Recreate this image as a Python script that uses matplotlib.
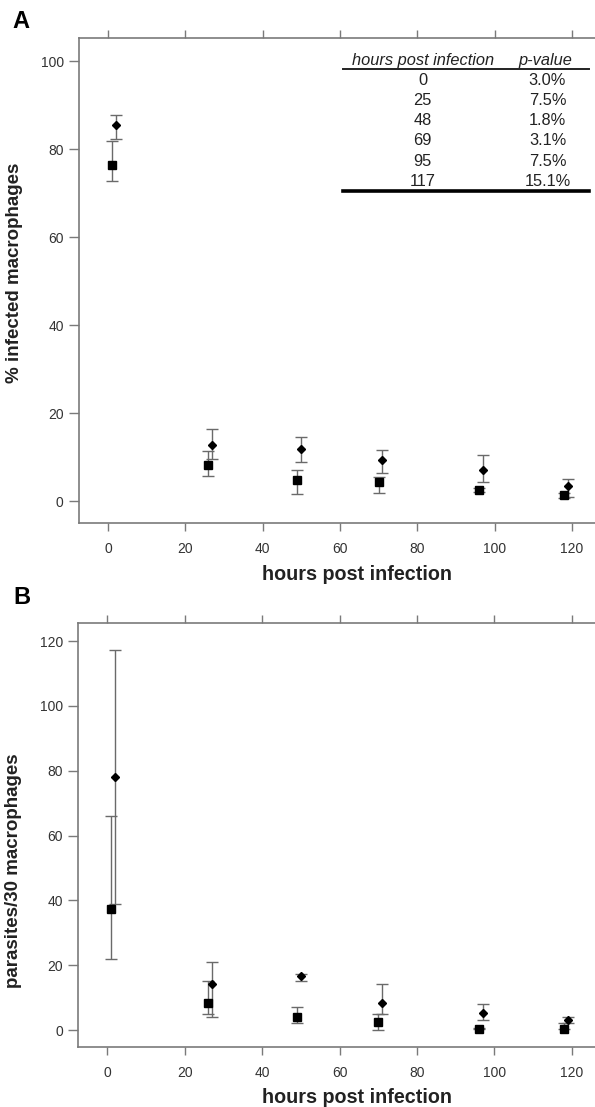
"""Two-panel time course: infected macrophages and parasite load."""

import matplotlib
matplotlib.use("Agg")
import matplotlib.pyplot as plt
from matplotlib.lines import Line2D

plt.rcParams["font.family"] = ["Liberation Sans", "DejaVu Sans"]

# sampling times (two groups slightly offset)
sq_x = [1, 26, 49, 70, 96, 118]
di_x = [2, 27, 50, 71, 97, 119]

# panel A: % infected macrophages
a_sq_y = [76.4, 8.3, 4.8, 4.3, 2.6, 1.4]
a_sq_lo = [72.8, 5.8, 1.7, 1.9, 2.0, 0.8]
a_sq_hi = [81.8, 11.4, 7.0, 5.4, 3.1, 1.8]
a_di_y = [85.5, 12.8, 11.8, 9.3, 7.0, 3.4]
a_di_lo = [82.3, 9.5, 8.8, 6.3, 4.3, 0.9]
a_di_hi = [87.8, 16.3, 14.5, 11.6, 10.6, 5.0]

# panel B: parasites / 30 macrophages
b_sq_y = [37.4, 8.4, 4.0, 2.4, 0.5, 0.5]
b_sq_lo = [21.9, 5.1, 2.2, 0.0, 0.3, 0.3]
b_sq_hi = [66.1, 15.1, 7.1, 5.1, 0.8, 2.2]
b_di_y = [78.0, 14.2, 16.6, 8.5, 5.2, 3.1]
b_di_lo = [39.0, 4.0, 15.1, 5.1, 3.1, 2.2]
b_di_hi = [117.2, 20.9, 17.2, 14.2, 8.2, 4.0]

# p-value table
table_hours = ["0", "25", "48", "69", "95", "117"]
table_pvals = ["3.0%", "7.5%", "1.8%", "3.1%", "7.5%", "15.1%"]

xticks = [0, 20, 40, 60, 80, 100, 120]

W, H = 595, 1107
fig = plt.figure(figsize=(W / 100, H / 100), dpi=100)

SPINE = "#7a7a7a"
ERR = "#6a6a6a"


def px(x, y):
    return x / W, 1 - y / H


def draw_panel(ax, ylim, yticks, sets, ylabel, ylabel_y, xlabel_y):
    for xs, ys, lo, hi, mk, ms in sets:
        yerr = [[y - l for y, l in zip(ys, lo)], [h - y for y, h in zip(ys, hi)]]
        ax.errorbar(xs, ys, yerr=yerr, fmt="none", ecolor=ERR, elinewidth=1.0,
                    capsize=4, capthick=1.0, zorder=2)
        ax.plot(xs, ys, mk, color="black", markersize=ms, linestyle="none", zorder=3)
    ax.set_xlim(-7.5, 126)
    ax.set_ylim(*ylim)
    ax.set_xticks(xticks)
    ax.set_yticks(yticks)
    ax.spines["right"].set_visible(False)
    for s in ("left", "top", "bottom"):
        ax.spines[s].set_color(SPINE)
        ax.spines[s].set_linewidth(1.2)
    ax.tick_params(axis="x", which="both", top=True, labeltop=False, direction="out",
                   length=6, width=1.0, color=SPINE, labelsize=10, labelcolor="#333333", pad=8)
    ax.tick_params(axis="y", direction="out", length=7, width=1.0, color=SPINE,
                   labelsize=10, labelcolor="#333333", pad=4)
    ax.set_xlabel("hours post infection", fontsize=14.2, fontweight="bold", color="#222222")
    ax.xaxis.set_label_coords(0.539, xlabel_y)
    ax.set_ylabel(ylabel, fontsize=13.5, fontweight="bold", color="#222222")
    ax.yaxis.set_label_coords(-0.108, ylabel_y)


# panel A
l, b = px(79, 522.7)
axA = fig.add_axes([l, b, 1 - l, (522.7 - 38.3) / H])
draw_panel(axA, (-4.9, 105.2), [0, 20, 40, 60, 80, 100],
           [(sq_x, a_sq_y, a_sq_lo, a_sq_hi, "s", 5.5),
            (di_x, a_di_y, a_di_lo, a_di_hi, "D", 4.2)],
           "% infected macrophages", 0.516, -0.087)

# panel B
l, b = px(78.3, 1046.7)
axB = fig.add_axes([l, b, 1 - l, (1046.7 - 623.3) / H])
draw_panel(axB, (-5.1, 125.5), [0, 20, 40, 60, 80, 100, 120],
           [(sq_x, b_sq_y, b_sq_lo, b_sq_hi, "s", 5.5),
            (di_x, b_di_y, b_di_lo, b_di_hi, "D", 4.2)],
           "parasites/30 macrophages", 0.415, -0.098)

# panel letters
fig.text(*px(12, 22), "A", fontsize=17, fontweight="bold", va="center", ha="left")
fig.text(*px(13, 597), "B", fontsize=17, fontweight="bold", va="center", ha="left")

# p-value table inside panel A
col1, col2 = 422.7, 545.5
fs = 11.8
fig.text(*px(col1, 60), "hours post infection", fontsize=fs, style="italic",
         ha="center", va="center", color="#222222")
fig.text(*px(col2, 60), "p-value", fontsize=fs, style="italic",
         ha="center", va="center", color="#222222")
for i, (h, p) in enumerate(zip(table_hours, table_pvals)):
    y = 80.5 + i * 20.15
    fig.text(*px(col1, y), h, fontsize=fs, ha="center", va="center", color="#222222")
    fig.text(*px(col2 + 2, y), p, fontsize=fs, ha="center", va="center", color="#222222")
x0, _ = px(342.7, 0)
x1, _ = px(589.3, 0)
fig.add_artist(Line2D([x0, x1], [px(0, 69)[1]] * 2, color="#222222", linewidth=1.4))
fig.add_artist(Line2D([x0, x1], [px(0, 190.7)[1]] * 2, color="black", linewidth=2.6))

fig.savefig("out.png", dpi=100)
